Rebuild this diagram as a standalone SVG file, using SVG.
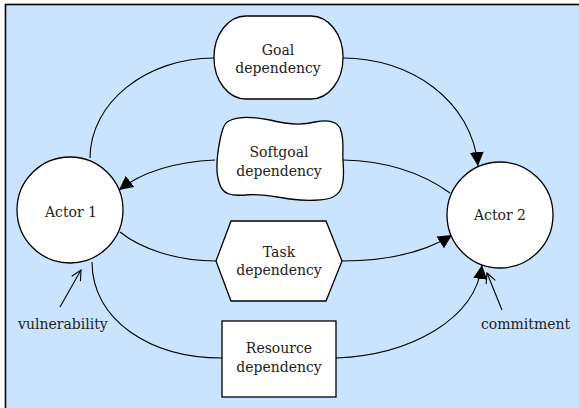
<svg xmlns="http://www.w3.org/2000/svg" width="579" height="408" viewBox="0 0 579 408">
<style>
.bg{fill:#cbe4fd;stroke:#000;stroke-width:1.6}
.shape{fill:#fff;stroke:#000;stroke-width:1.3}
.conn{fill:none;stroke:#000;stroke-width:1.1}
</style>
<defs>
<marker id="tri" markerUnits="userSpaceOnUse" viewBox="0 0 14 14" refX="14" refY="7" markerWidth="14" markerHeight="14" orient="auto">
<path d="M0,0 L14,7 L0,14 z" fill="#000"/>
</marker>
<marker id="open" markerUnits="userSpaceOnUse" viewBox="0 0 12 12" refX="11" refY="6" markerWidth="12" markerHeight="12" orient="auto">
<path d="M1,1 L11,6 L1,11" fill="none" stroke="#000" stroke-width="1.1"/>
</marker>
</defs>
<rect width="579" height="408" fill="#fff"/>
<rect class="bg" x="5.5" y="4.5" width="600" height="420"/>
<g id="connectors">
<path class="conn" d="M90,158 C90,103 146,58 214,58"/>
<path class="conn" d="M343,58 C410,58 472,100 478,166" marker-end="url(#tri)"/>
<path class="conn" d="M215,160 C172,162 142,172 119,190" marker-end="url(#tri)"/>
<path class="conn" d="M343,160 C390,161 425,175 450,193"/>
<path class="conn" d="M120,232 C140,248 175,261 216,261"/>
<path class="conn" d="M342,261 C390,261 425,252 452,235" marker-end="url(#tri)"/>
<path class="conn" d="M92,262 C92,320 150,358 222,358"/>
<path class="conn" d="M336,358 C410,355 475,320 482,265" marker-end="url(#tri)"/>
<path class="conn" d="M60,307 L81,270" marker-end="url(#open)"/>
<path class="conn" d="M502,310 L487,273" marker-end="url(#open)"/>
</g>
<g font-family="'DejaVu Serif', 'Liberation Serif', serif" font-size="14" fill="#222" text-anchor="middle">
<g id="actor1">
<circle class="shape" cx="70" cy="210" r="53"/>
<text x="71" y="217">Actor 1</text>
</g>
<g id="actor2">
<circle class="shape" cx="500" cy="215" r="53"/>
<text x="500" y="220">Actor 2</text>
</g>
<g id="goal">
<rect class="shape" x="214" y="16" width="129" height="83" rx="32" ry="41"/>
<text x="278" y="55">Goal</text>
<text x="278" y="73">dependency</text>
</g>
<g id="softgoal">
<path class="shape" d="M231,120 C240,116 255,117 270,120 C285,124 300,126 315,122 C325,120 336,120 340,128 C345,140 342,150 343,160 C344,175 345,192 333,197 C325,201 305,201 290,199 C275,197 260,193 245,195 C232,196 222,195 219,182 C215,170 218,150 220,140 C222,130 224,122 231,120 Z"/>
<text x="279" y="157">Softgoal</text>
<text x="279" y="176">dependency</text>
</g>
<g id="task">
<polygon class="shape" points="216,261 231,221 326,221 342,261 326,301 231,301"/>
<text x="279" y="257">Task</text>
<text x="279" y="275">dependency</text>
</g>
<g id="resource">
<rect class="shape" x="222" y="321" width="114" height="76"/>
<text x="279" y="353">Resource</text>
<text x="279" y="372">dependency</text>
</g>
<g id="labels">
<text x="18" y="329" text-anchor="start">vulnerability</text>
<text x="481" y="329" text-anchor="start">commitment</text>
</g>
</g>
</svg>
